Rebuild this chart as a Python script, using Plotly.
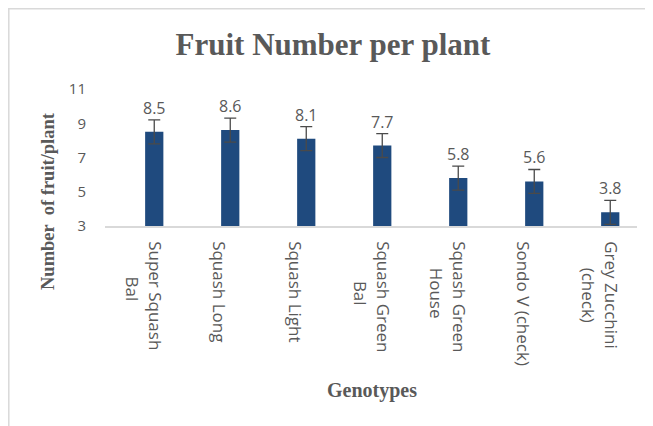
import plotly.graph_objects as go

NB = "\u00a0"
genotypes = ["Super Squash<br>" + NB * 8 + "Bal", "Squash Long", "Squash Light",
             "Squash Green<br>" + NB * 9 + "Bal", "Squash Green<br>" + NB * 6 + "House",
             "Sondo V (check)", "Grey Zucchini<br>" + NB * 6 + "(check)"]
fruit_number = [8.5, 8.6, 8.1, 7.7, 5.8, 5.6, 3.8]
error = [0.7, 0.7, 0.7, 0.7, 0.7, 0.7, 0.7]
y_ticks = [3, 5, 7, 9, 11]

# the page adds an 8px body margin, so the figure is sized to fit the window
W, H = 645, 418
ml, mr, mt, mb = 97, 16, 81, 200

pw, ph = W - ml - mr, H - mt - mb
def px(x): return (x - ml) / pw
def py(y): return (H - mb - y) / ph

SANS = "Open Sans, Liberation Sans, sans-serif"
SERIF = "Liberation Serif, Times New Roman, serif"
GREY = "#595959"

BAR_W = 0.24
BAR_OFF = 0.028   # bars sit slightly right of the category centre (clustered layout)

fig = go.Figure()
fig.add_trace(go.Bar(
    x=genotypes, y=fruit_number, base=0,
    marker=dict(color="#1f4a7e", line=dict(width=0)),
    width=BAR_W, offset=BAR_OFF,
    error_y=dict(type="data", array=error, visible=True, color="#4a4a4a", thickness=1.3, width=6),
    hoverinfo="skip",
))

band = pw / len(genotypes)
shift = (BAR_OFF + BAR_W / 2) * band
for g, v in zip(genotypes, fruit_number):
    fig.add_annotation(x=g, y=v, text=f"{v:.1f}", showarrow=False, yshift=24, xshift=shift,
                       font=dict(family=SANS, size=16, color=GREY))

fig.add_annotation(text="<b>Number  of fruit/plant</b>", textangle=-90, showarrow=False,
                   xref="paper", yref="paper", x=px(40), y=py(193),
                   xanchor="center", yanchor="middle",
                   font=dict(family=SERIF, size=18.5, color=GREY))
fig.add_annotation(text="<b>Genotypes</b>", showarrow=False, xref="paper", yref="paper",
                   x=px(364), y=py(382), xanchor="center", yanchor="middle",
                   font=dict(family=SERIF, size=20, color=GREY))

# chart border (top and left edges visible)
fig.add_shape(type="line", xref="paper", yref="paper", x0=px(0), x1=px(W + 5), y0=py(0.8), y1=py(0.8),
              line=dict(color="#d9d9d9", width=1.5))
fig.add_shape(type="line", xref="paper", yref="paper", x0=px(0.8), x1=px(0.8), y0=py(0), y1=py(H + 5),
              line=dict(color="#d9d9d9", width=1.5))

fig.update_layout(
    width=W, height=H,
    margin=dict(l=ml, r=mr, t=mt, b=mb, autoexpand=False),
    paper_bgcolor="white", plot_bgcolor="white",
    showlegend=False,
    title=dict(text="<b>Fruit Number per plant</b>", x=325 / W, xanchor="center", y=1 - 36 / H, yanchor="middle",
               font=dict(family=SERIF, size=31, color=GREY)),
    xaxis=dict(tickangle=90, showline=True, linecolor="#d9d9d9", linewidth=1.5, ticks="",
               ticklabelstandoff=10,
               tickfont=dict(family=SANS, size=17, color=GREY),
               showgrid=False, zeroline=False),
    yaxis=dict(range=[3, 11], tickvals=y_ticks, showgrid=False, zeroline=False, showline=False,
               ticks="", ticklabelstandoff=18,
               tickfont=dict(family=SANS, size=15, color=GREY)),
)

fig.write_html("out.html")
